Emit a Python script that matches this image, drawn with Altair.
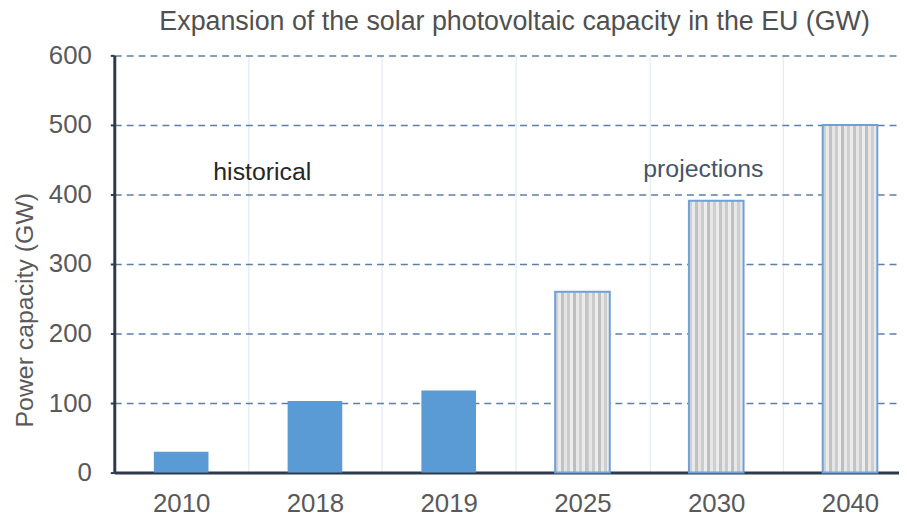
import altair as alt
import pandas as pd

years = ["2010", "2018", "2019", "2025", "2030", "2040"]
capacity = [30, 103, 118, 260, 391, 500]
kind = ["historical", "historical", "historical", "projection", "projection", "projection"]

ann_text = ["historical", "projections"]
ann_year = ["2018", "2030"]
ann_value = [432, 436]

title_text = "Expansion of the solar photovoltaic capacity in the EU (GW)"
y_title = "Power capacity (GW)"

df = pd.DataFrame({"year": years, "capacity": capacity, "kind": kind})
ann = pd.DataFrame({"label": ann_text, "year": ann_year, "value": ann_value})

FONT = "Liberation Sans"
major = "datum.value % 100 == 0"

x_enc = alt.X(
    "year:N",
    sort=years,
    scale=alt.Scale(domain=years, paddingInner=0, paddingOuter=0, range=[0, 808]),
    axis=alt.Axis(
        title=None, labelAngle=0, grid=True, tickBand="extent",
        gridColor="#DCE6F2", gridWidth=1, ticks=False,
        domainColor="#2D3A4B", domainWidth=3,
        labelFont=FONT, labelFontSize=26, labelColor="#595959",
        labelPadding=18, labelBaseline="top",
    ),
)
y_enc = alt.Y(
    "capacity:Q",
    scale=alt.Scale(domain=[0, 600], nice=False),
    axis=alt.Axis(
        title=y_title,
        values=list(range(0, 601, 50)),
        labelExpr="datum.value % 100 == 0 ? datum.label : ''",
        grid=True,
        gridDash={"condition": {"test": major, "value": [7, 5]}, "value": []},
        gridColor={"condition": {"test": major, "value": "#5C7FA8"}, "value": "#E6E6E6"},
        gridWidth={"condition": {"test": major, "value": 1.5}, "value": 1},
        domainColor="#2D3A4B", domainWidth=3,
        tickColor="#2D3A4B", tickSize=4, tickWidth=2,
        labelFont=FONT, labelFontSize=26, labelColor="#595959", labelPadding=19,
        titleFont=FONT, titleFontSize=25, titleColor="#595959", titleFontWeight="normal",
        titleX=-90, titleY=256, titleAngle=-90, titleAlign="center", titleBaseline="middle",
    ),
)

base = alt.Chart(df).encode(x=x_enc, y=y_enc)

hist = base.transform_filter(alt.datum.kind == "historical").mark_bar(
    size=55, color="#5B9BD5"
)

stops = []
shades = ["#D0D0D0", "#EAEAEA", "#C2C2C2", "#E4E4E4", "#CCCCCC", "#EDEDED",
          "#BEBEBE", "#E7E7E7", "#CFCFCF", "#EBEBEB", "#C4C4C4", "#E5E5E5",
          "#CBCBCB", "#ECECEC", "#C0C0C0", "#E8E8E8", "#CECECE", "#EAEAEA"]
n = len(shades)
for i, c in enumerate(shades):
    stops.append(alt.GradientStop(color=c, offset=i / n))
    stops.append(alt.GradientStop(color=c, offset=(i + 1) / n - 0.001))
grad = alt.Gradient(gradient="linear", stops=stops, x1=0, x2=1, y1=0, y2=0)

proj = base.transform_filter(alt.datum.kind == "projection").mark_bar(
    size=55, color=grad, stroke="#6FA0D8", strokeWidth=2
)

ann_base = alt.Chart(ann).encode(
    x=alt.X("year:N", sort=years),
    y=alt.Y("value:Q"),
    text="label:N",
)
hist_txt = ann_base.transform_filter(alt.datum.label == "historical").mark_text(
    font=FONT, fontSize=25, color="#262626", dx=-53
)
proj_txt = ann_base.transform_filter(alt.datum.label == "projections").mark_text(
    font=FONT, fontSize=25, color="#44546A", dx=-13
)

chart = (
    alt.layer(hist, proj, hist_txt, proj_txt)
    .properties(
        width=790,
        height=420,
        autosize=alt.AutoSizeParams(type="none"),
        padding={"left": 107, "top": 46, "right": 0, "bottom": 45},
        title=alt.TitleParams(
            title_text, font=FONT, fontSize=27, fontWeight="normal",
            color="#505050", anchor="middle", baseline="alphabetic",
            offset=-14, dx=8,
        ),
        background="white",
    )
    .configure_view(stroke=None)
)

chart.save("out.html", embed_options={"renderer": "svg", "actions": False})
